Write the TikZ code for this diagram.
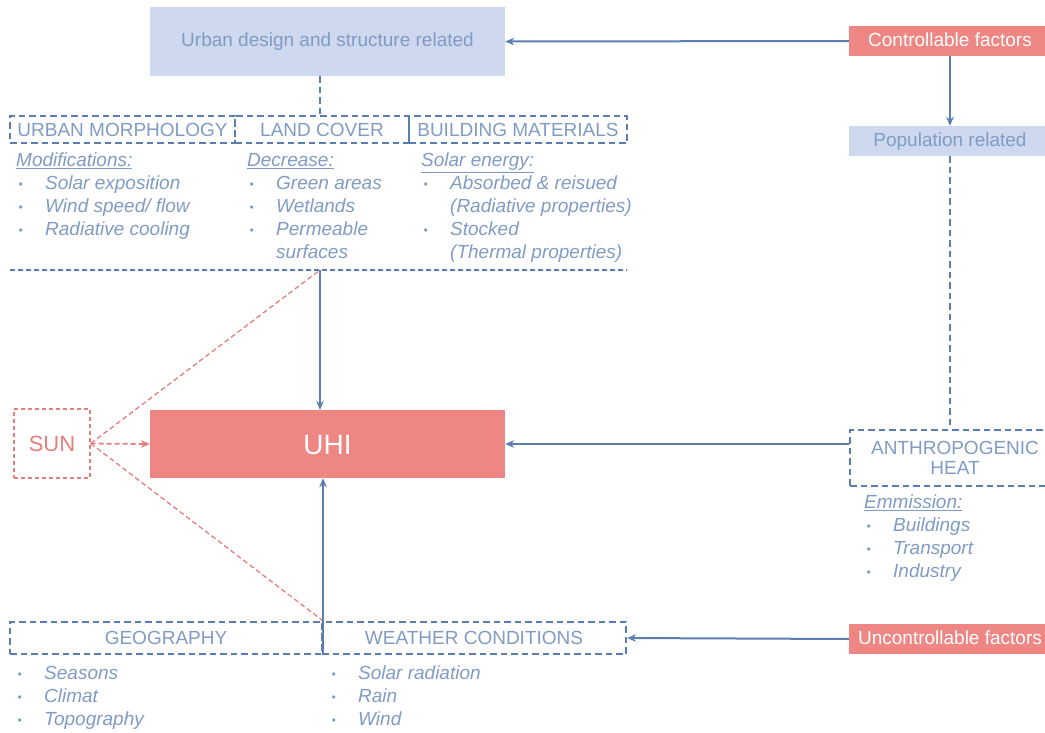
\documentclass[tikz,border=0pt]{standalone}
\usepackage{fontspec}
\setmainfont{Liberation Sans}
\usetikzlibrary{arrows.meta}
\definecolor{lineblue}{RGB}{91,125,176}
\definecolor{textblue}{RGB}{128,155,196}
\definecolor{lightfill}{RGB}{206,216,238}
\definecolor{redfill}{RGB}{238,134,131}
\definecolor{sunred}{RGB}{226,128,126}
\newcommand\mainsize{\fontsize{19}{23}\selectfont}
\newcommand\listfont{\fontsize{19}{23}\selectfont\itshape}
\newcommand\bul{\makebox[29pt][l]{\hspace{2.5pt}\raisebox{1pt}{\fontsize{12}{12}\selectfont\textbullet}}}
\newcommand\fstl{\rule{0pt}{14pt}}
\newcommand\ind{\hspace*{29pt}}
\begin{document}
\begin{tikzpicture}[x=1pt,y=-1pt,
  lbbox/.style={fill=lightfill, text=textblue, inner sep=0pt, font=\mainsize, text height=13.5pt, text depth=3pt},
  redbox/.style={fill=redfill, text=white, inner sep=0pt, font=\mainsize, text height=13.5pt, text depth=3pt},
  dbox/.style={draw=lineblue, dash pattern=on 6.5pt off 4pt, line width=2.1pt, text=textblue, inner sep=0pt, font=\mainsize},
  arr/.style={draw=lineblue, line width=2pt, -{Stealth[length=9pt,width=7.5pt]}},
  dline/.style={draw=lineblue, line width=2pt, dash pattern=on 6.5pt off 4pt},
  sline/.style={draw=lineblue, line width=2pt},
  sepline/.style={draw=lineblue, line width=1.4pt, dash pattern=on 5pt off 3pt},
  sunline/.style={draw=sunred, line width=1.3pt, dash pattern=on 5pt off 3pt},
  sunarr/.style={draw=sunred, line width=1.8pt, dash pattern=on 5pt off 3pt, -{Stealth[length=9pt,width=7.5pt]}},
  listtxt/.style={anchor=north west, inner sep=0pt, align=left, text=textblue, font=\listfont}
]
\useasboundingbox (0,0) rectangle (1045,732);
\clip (0,0) rectangle (1045,732);

% top boxes
\node[lbbox, minimum width=355pt, minimum height=69pt] (urban) at (327.5,41.5) {Urban design and structure related};
\node[redbox, minimum width=202pt, minimum height=30pt] (ctrl) at (950,41) {Controllable factors};
\node[lbbox, minimum width=202pt, minimum height=30pt] (pop) at (950,141) {Population related};

% urban group
\node[dbox, minimum width=225pt, minimum height=27pt] (um) at (122.5,129.5) {URBAN MORPHOLOGY};
\node[dbox, minimum width=174pt, minimum height=27pt] (lc) at (322,129.5) {LAND COVER};
\node[dbox, minimum width=218pt, minimum height=27pt] (bm) at (518,129.5) {BUILDING MATERIALS};

\node[listtxt] (umlist) at (16,152.5) {\fstl\underline{Modifications:}\\ \bul Solar exposition\\ \bul Wind speed/ flow\\ \bul Radiative cooling};
\node[listtxt] (lclist) at (247,152.5) {\fstl\underline{Decrease:}\\ \bul Green areas\\ \bul Wetlands\\ \bul Permeable\\ \ind surfaces};
\node[listtxt] (bmlist) at (421,152.5) {\fstl\underline{Solar energy:}\\ \bul Absorbed \& reisued\\ \ind (Radiative properties)\\ \bul Stocked\\ \ind (Thermal properties)};

\coordinate (sepL) at (10,270);
\coordinate (sepR) at (627,270);
\coordinate (sepM) at (320,270);

% center
\node[redbox, minimum width=355pt, minimum height=68pt, font=\fontsize{28}{30}\selectfont, text height=20pt, text depth=0pt] (uhi) at (327.5,444) {UHI};
\node[draw=sunred, dash pattern=on 4pt off 3pt, line width=1.4pt, text=sunred, minimum width=76pt, minimum height=69pt, inner sep=0pt, font=\fontsize{22}{24}\selectfont] (sun) at (52,443.5) {SUN};

% anthropogenic
\node[dbox, minimum width=210pt, minimum height=56pt, align=center, font=\fontsize{19}{20}\selectfont] (anthro) at (955,458) {ANTHROPOGENIC\\HEAT};
\node[listtxt] (anlist) at (864,494.5) {\fstl\underline{Emmission:}\\ \bul Buildings\\ \bul Transport\\ \bul Industry};

% bottom group
\node[dbox, minimum width=312pt, minimum height=32pt] (geo) at (166,638) {GEOGRAPHY};
\node[dbox, minimum width=304pt, minimum height=32pt] (weather) at (474,638) {WEATHER CONDITIONS};
\node[redbox, minimum width=202pt, minimum height=30pt] (unctrl) at (950,639) {Uncontrollable factors};
\node[listtxt] (geolist) at (15,665.5) {\fstl\bul Seasons\\ \bul Climat\\ \bul Topography};
\node[listtxt] (wclist) at (329,665.5) {\fstl\bul Solar radiation\\ \bul Rain\\ \bul Wind};

% connectors
\draw[arr] (ctrl.west) -- (urban.east);
\draw[arr] (ctrl.south) -- (pop.north);
\draw[dline] (pop.south) -- (pop.south |- anthro.north);
\draw[dline] (urban.south -| sepM) -- (sepM |- lc.north);
\draw[sepline] (sepL) -- (sepR);
\draw[arr] (sepM) -- (sepM |- uhi.north);
\draw[sunline] (sun.east) -- (sepM);
\draw[sunline] (sun.east) -- (geo.north east);
\draw[sunarr] (sun.east) -- (uhi.west);
\draw[arr] (uhi.east -| anthro.west) -- (uhi.east);
\draw[arr] (unctrl.west) -- (weather.east);
\draw[sline] (geo.south east) -- (geo.north east);
\draw[arr] (geo.north east) -- (geo.north east |- uhi.south);
\end{tikzpicture}
\end{document}
